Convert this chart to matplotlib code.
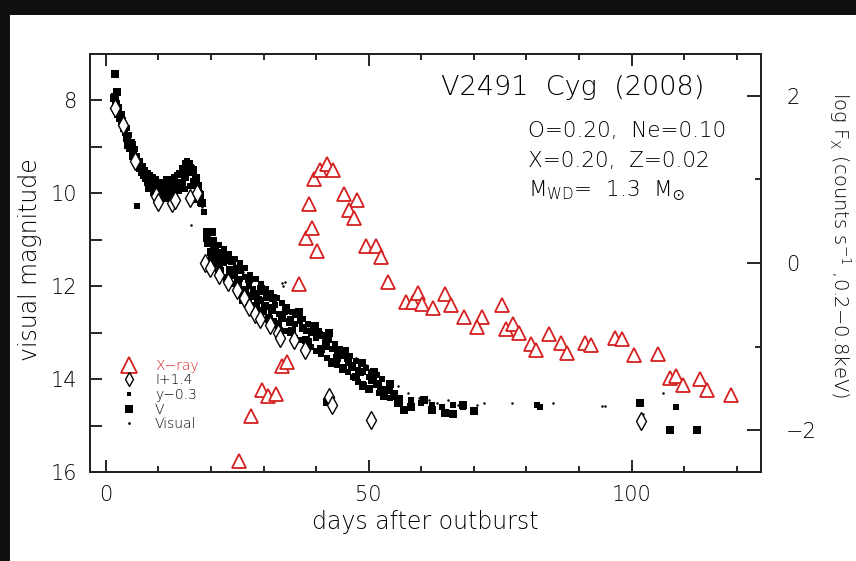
import matplotlib
matplotlib.use("Agg")
import matplotlib.pyplot as plt
from matplotlib.lines import Line2D
from matplotlib.ticker import MultipleLocator, FixedLocator

plt.rcParams['font.family'] = ['DejaVu Sans']
plt.rcParams['font.weight'] = 'light'
plt.rcParams['mathtext.fontset'] = 'dejavusans'

RED = '#d42020'

# X-ray count rate (right axis, log counts/s)
xray_day = [25.3, 27.6, 29.8, 30.9, 32.4, 33.5, 34.4, 36.8, 38.1, 39.2, 40.2, 38.6,
            39.6, 40.8, 42.0, 43.2, 45.3, 47.8, 46.2, 47.2, 49.5, 51.4, 52.4, 53.6,
            57.0, 58.4, 59.4, 60.1, 62.3, 64.5, 65.7, 68.1, 71.6, 70.5, 75.4, 76.2,
            77.4, 78.5, 80.8, 81.9, 84.2, 86.5, 87.8, 91.2, 92.3, 96.8, 98.2, 100.4,
            105.1, 107.3, 108.5, 109.7, 113.0, 114.3, 118.9]
xray_logf = [-2.37, -1.83, -1.52, -1.59, -1.57, -1.23, -1.18, -0.25, 0.30, 0.42, 0.14, 0.71,
             1.00, 1.11, 1.19, 1.11, 0.83, 0.76, 0.63, 0.54, 0.20, 0.20, 0.07, -0.22,
             -0.47, -0.47, -0.36, -0.49, -0.54, -0.37, -0.50, -0.64, -0.64, -0.76, -0.50, -0.79,
             -0.73, -0.84, -0.97, -1.04, -0.85, -0.95, -1.07, -0.95, -0.98, -0.90, -0.91, -1.10,
             -1.08, -1.37, -1.35, -1.46, -1.39, -1.52, -1.58]

# I band shifted by +1.4
i_day = [1.8, 3.3, 5.5, 9.6, 10.0, 12.5, 13.2, 16.0, 17.3, 18.9, 19.8, 21.5, 23.3, 24.9,
         26.2, 27.3, 28.4, 29.3, 31.2, 32.8, 33.1, 35.7, 37.9, 42.5, 43.0, 50.5, 101.7]
i_mag = [8.16, 8.53, 9.30, 10.05, 10.18, 10.21, 10.15, 10.10, 10.00, 11.50, 11.60, 11.75, 11.90, 12.08,
         12.25, 12.45, 12.60, 12.70, 12.83, 13.00, 13.11, 13.15, 13.37, 14.37, 14.55, 14.87, 14.90]

# y band shifted by -0.3
y_day = [1.6, 2.1, 2.4, 2.9, 3.3, 3.6, 4.2, 4.8, 5.4, 5.9, 6.4, 6.9, 7.4, 8.0, 8.5, 9.2,
         9.8, 10.5, 11.2, 12.0, 12.8, 13.6, 14.3, 15.0, 15.6, 16.4, 17.0, 17.5, 18.0, 5.9,
         18.6, 19.0, 19.6, 20.4, 21.0, 21.8, 22.5, 23.2, 24.0, 24.8, 25.6, 26.4, 27.2, 28.0,
         28.8, 29.6, 30.5, 31.3, 32.2, 33.0, 34.0, 35.0, 36.0, 37.0, 38.0, 39.0, 40.0, 41.0,
         42.0, 43.0, 44.0, 45.0, 46.0, 47.0, 48.0, 49.0, 50.0, 51.0, 52.0, 53.0, 54.0, 55.0,
         56.0, 58.0, 60.0, 62.0, 64.0, 66.0, 68.0, 82.0, 82.6, 108.4,
         2.0, 2.6, 3.0, 3.5, 4.0, 4.5, 5.0, 5.5, 6.0, 6.5, 7.0, 7.5, 8.0, 8.5, 9.0, 9.5,
         10.0, 10.5, 11.0, 11.5, 12.0, 12.5, 13.0, 13.5, 14.0, 14.5, 15.0, 15.5, 16.0, 16.5,
         17.0, 17.5, 18.0, 8.0, 9.0, 10.0, 11.0, 12.0, 13.0, 14.0, 15.0, 16.0, 17.0,
         19.5, 20.5, 21.5, 22.5, 23.5, 24.5, 25.5, 26.5, 27.5, 28.5, 29.5, 30.5, 31.5, 32.5,
         33.5, 34.5, 35.5, 36.5, 37.5, 38.5, 39.5, 40.5, 41.5, 42.5, 43.5, 44.5, 45.5, 46.5,
         47.5, 48.5, 49.5, 50.5, 51.5, 52.5,
         20.0, 21.0, 22.0, 23.0, 24.0, 25.0, 26.0, 27.0, 28.0, 29.0, 30.0, 31.0, 32.0, 33.0,
         34.0, 35.0, 36.0, 37.0, 38.0, 39.0, 40.0, 41.0, 42.0, 43.0, 44.0, 45.0, 46.0, 47.0,
         48.0, 49.0, 50.0, 52.0, 54.0, 56.0]
y_mag = [7.90, 8.05, 8.20, 8.40, 8.55, 8.70, 8.85, 9.00, 9.15, 9.30, 9.45, 9.55, 9.60, 9.70, 9.85, 9.80,
         9.90, 9.95, 9.85, 9.90, 9.80, 9.75, 9.60, 9.50, 9.40, 9.45, 9.70, 9.95, 10.20, 10.27,
         10.40, 10.80, 11.00, 11.10, 11.30, 11.25, 11.50, 11.45, 11.70, 11.60, 11.85, 11.80, 12.00, 12.05,
         12.15, 12.30, 12.25, 12.45, 12.40, 12.60, 12.55, 12.70, 12.80, 12.75, 12.95, 13.00, 13.10, 13.05,
         13.30, 13.35, 13.45, 13.50, 13.65, 13.70, 13.80, 13.85, 13.95, 14.00, 14.10, 14.20, 14.25, 14.30,
         14.40, 14.45, 14.50, 14.55, 14.60, 14.55, 14.60, 14.55, 14.60, 14.60,
         7.95, 8.15, 8.30, 8.50, 8.60, 8.75, 8.90, 9.05, 9.20, 9.30, 9.40, 9.50, 9.55, 9.60, 9.65, 9.70,
         9.75, 9.80, 9.75, 9.70, 9.75, 9.70, 9.65, 9.60, 9.55, 9.45, 9.35, 9.30, 9.35, 9.55,
         9.85, 10.10, 10.00, 9.90, 10.00, 10.05, 10.00, 10.05, 10.00, 9.95, 9.90, 9.85, 10.15,
         10.90, 11.00, 11.10, 11.20, 11.30, 11.40, 11.50, 11.60, 11.75, 11.85, 11.95, 12.05, 12.15, 12.25,
         12.35, 12.45, 12.55, 12.60, 12.70, 12.80, 12.85, 12.95, 13.05, 13.15, 13.25, 13.35, 13.40, 13.50,
         13.60, 13.65, 13.75, 13.85, 13.90, 14.00,
         11.40, 11.50, 11.65, 11.80, 11.95, 12.05, 12.15, 12.30, 12.40, 12.50, 12.55, 12.65, 12.75, 12.85,
         12.95, 13.00, 13.10, 13.15, 13.25, 13.30, 13.40, 13.45, 13.55, 13.60, 13.70, 13.80, 13.85, 13.95,
         14.05, 14.10, 14.20, 14.30, 14.40, 14.50]

# V band
v_day = [1.8, 2.2, 2.0, 2.7, 4.0, 4.6, 5.2, 6.1, 6.9, 7.7, 8.8, 10.3, 11.8, 12.6, 13.4,
         14.5, 15.6, 16.0, 17.2, 17.9, 20.2, 19.4, 20.8, 22.1, 23.6, 25.2, 26.5, 27.8, 29.0,
         30.3, 31.6, 33.5, 35.0, 37.5, 39.2, 41.9, 44.2, 46.1, 46.8, 42.1, 48.3, 50.6, 52.3,
         54.8, 56.7, 64.5, 70.0, 101.6, 107.3, 112.4,
         3.0, 5.8, 7.2, 9.5, 11.0, 14.0, 16.8, 21.5, 24.3, 27.0, 30.0, 32.8, 36.2, 38.5,
         40.5, 43.0, 45.2, 49.0, 51.5,
         1.5, 2.4, 3.5, 4.3, 5.0, 6.5, 8.0, 9.0, 10.0, 12.0, 13.0, 15.0, 16.5, 17.6, 18.3,
         19.2, 20.0, 21.0, 22.5, 23.0, 24.0, 25.5, 26.0, 27.2, 28.5, 29.5, 31.0, 31.8, 33.0,
         34.2, 35.5, 36.8, 38.0, 39.8, 41.0, 42.5, 44.0, 45.5, 47.5, 48.8, 50.0, 51.0, 53.0,
         54.0, 55.5, 58.0, 60.5, 62.0, 66.0, 68.0]
v_mag = [7.44, 7.81, 8.10, 8.38, 8.81, 9.02, 9.19, 9.39, 9.54, 9.67, 9.77, 9.84, 9.88, 10.14, 9.86,
         9.77, 9.54, 9.46, 9.67, 10.03, 10.82, 11.06, 11.22, 11.47, 11.65, 11.90, 12.08, 12.20, 12.29,
         12.42, 12.51, 12.68, 12.76, 12.89, 12.98, 13.19, 13.37, 13.54, 13.73, 14.48, 13.84, 14.01, 14.23,
         14.35, 14.66, 14.72, 14.68, 14.51, 15.10, 15.10,
         8.45, 9.30, 9.60, 9.95, 10.10, 9.85, 9.75, 11.65, 11.75, 12.25, 12.10, 12.80, 12.60, 13.20,
         13.05, 13.65, 13.75, 14.15, 14.10,
         7.95, 8.30, 8.60, 8.95, 8.95, 9.45, 9.75, 9.85, 9.95, 10.00, 9.75, 9.65, 9.50, 9.85, 10.20,
         10.95, 11.25, 11.40, 11.35, 11.85, 11.45, 11.65, 12.30, 11.85, 12.45, 12.05, 12.70, 12.25, 12.95,
         12.50, 12.95, 12.55, 13.15, 12.85, 13.35, 13.00, 13.55, 13.40, 13.95, 13.65, 14.20, 13.85, 14.35,
         14.10, 14.50, 14.60, 14.45, 14.65, 14.75, 14.55]

# visual estimates
vis_day = [2.5, 3.9, 5.0, 7.2, 9.5, 11.0, 13.0, 14.8, 16.3, 18.3, 19.5, 21.2, 22.8, 24.5,
           26.0, 27.7, 29.2, 30.8, 32.0, 33.5, 33.7, 34.0, 36.5, 38.5, 40.5, 43.5, 45.5,
           47.5, 49.5, 51.5, 53.5, 55.5, 57.5, 59.5, 61.5, 63.0, 65.0, 67.0, 70.5, 72.0,
           77.3, 85.0, 94.4, 94.9, 102.2, 106.0]
vis_mag = [8.3, 8.9, 9.1, 9.5, 9.75, 9.8, 9.7, 9.55, 10.68, 10.3, 10.95, 11.15, 11.35, 11.55,
           11.7, 11.9, 12.1, 12.2, 12.3, 11.93, 12.0, 11.9, 12.6, 12.85, 12.95, 13.25, 13.35,
           13.55, 13.7, 13.85, 14.05, 14.15, 14.3, 14.4, 14.45, 14.5, 14.45, 14.55, 14.55, 14.5,
           14.5, 14.5, 14.58, 14.58, 14.75, 14.3]

fig = plt.figure(figsize=(8.56, 5.61), dpi=100, facecolor='white')
ax = fig.add_axes([90 / 856, 1 - 472.3 / 561, 671 / 856, 418.3 / 561])
ax2 = ax.twinx()

ax.plot(vis_day, vis_mag, ls='none', marker='o', ms=1.8, color='k', mew=0)
ax.plot(y_day, y_mag, ls='none', marker='s', ms=3.8, color='k', mew=0)
ax.plot(v_day, v_mag, ls='none', marker='s', ms=6.3, color='k', mew=0)
ax.plot(i_day, i_mag, ls='none', marker='d', ms=9, mfc='white', mec='k', mew=1.0)
ax2.plot(xray_day, xray_logf, ls='none', marker='^', ms=9.5, mfc='white', mec=RED, mew=1.3)

ax.set_xlim(-3, 124.6)
ax.set_ylim(16, 7)
ax2.set_ylim(-2.5, 2.5)

tick_font = 15
ax.xaxis.set_major_locator(FixedLocator([0, 50, 100]))
ax.xaxis.set_minor_locator(MultipleLocator(10))
ax.yaxis.set_major_locator(FixedLocator([8, 10, 12, 14, 16]))
ax.yaxis.set_minor_locator(MultipleLocator(1))
ax.tick_params(axis='x', which='major', direction='in', length=8.6, width=1.2, top=True,
               labelsize=tick_font, pad=9)
ax.tick_params(axis='x', which='minor', direction='in', length=4.3, width=1.2, top=True)
ax.tick_params(axis='y', which='both', direction='in', length=8.6, width=1.2, right=False,
               labelsize=tick_font, pad=9)

ax2.yaxis.set_major_locator(FixedLocator([-2, 0, 2]))
ax2.yaxis.set_minor_locator(MultipleLocator(1))
ax2.set_yticklabels(['\u22122', '0', '2'])
ax2.tick_params(axis='y', which='major', direction='in', length=10, width=1.2,
                labelsize=tick_font, pad=18)
ax2.tick_params(axis='y', which='minor', direction='in', length=4.3, width=1.2)

for a in (ax, ax2):
    for sp in a.spines.values():
        sp.set_linewidth(1.4)
        sp.set_color('#222222')

# annotations in the upper right
ax.text(0.915, 0.902, 'V2491  Cyg  (2008)', transform=ax.transAxes, ha='right', va='baseline',
        fontsize=19.5)
ax.text(0.653, 0.8016, 'O=0.20,  Ne=0.10', transform=ax.transAxes, ha='left', va='baseline',
        fontsize=15.5)
ax.text(0.653, 0.730, 'X=0.20,  Z=0.02', transform=ax.transAxes, ha='left', va='baseline',
        fontsize=15.5)
ax.text(0.653, 0.659, r'M$_{\mathrm{WD}}$=  1.3  M$_{\odot}$', transform=ax.transAxes,
        ha='left', va='baseline', fontsize=15.5)

# legend for all five data sets
handles = [
    Line2D([], [], ls='none', marker='^', ms=12, mfc='white', mec=RED, mew=1.3),
    Line2D([], [], ls='none', marker='d', ms=7.5, mfc='white', mec='k', mew=1.0),
    Line2D([], [], ls='none', marker='s', ms=3.5, color='k', mew=0),
    Line2D([], [], ls='none', marker='s', ms=5.5, color='k', mew=0),
    Line2D([], [], ls='none', marker='o', ms=2, color='k', mew=0),
]
labels = ['X\u2212ray', 'I+1.4', 'y\u22120.3', 'V', 'Visual']
leg = ax2.legend(handles, labels, loc='upper left', bbox_to_anchor=(0.045, 0.272),
                 frameon=False, fontsize=10, handlelength=1.3, handletextpad=1.2,
                 labelspacing=0.05, borderaxespad=0, borderpad=0)
leg.get_texts()[0].set_color(RED)

fig.text(30 / 856, 1 - 260 / 561, 'visual magnitude', rotation=90, ha='center', va='center',
         fontsize=17)
fig.text(425 / 856, 1 - 522 / 561, 'days after outburst', ha='center', va='center',
         fontsize=17)
fig.text(840 / 856, 1 - 245 / 561,
         'log F$_{\\mathrm{X}}$ (counts s$^{-1}$ ,0.2\u22120.8keV)',
         rotation=270, ha='center', va='center', fontsize=14)

# dark bands along the left and top edges
for rect in ([0, 0, 10 / 856, 1 - 15 / 561], [0, 1 - 15 / 561, 1, 15 / 561]):
    band = fig.add_axes(rect)
    band.set_facecolor('#101010')
    band.set_xticks([])
    band.set_yticks([])
    for sp in band.spines.values():
        sp.set_visible(False)

fig.savefig('out.png', dpi=100, facecolor='white')
